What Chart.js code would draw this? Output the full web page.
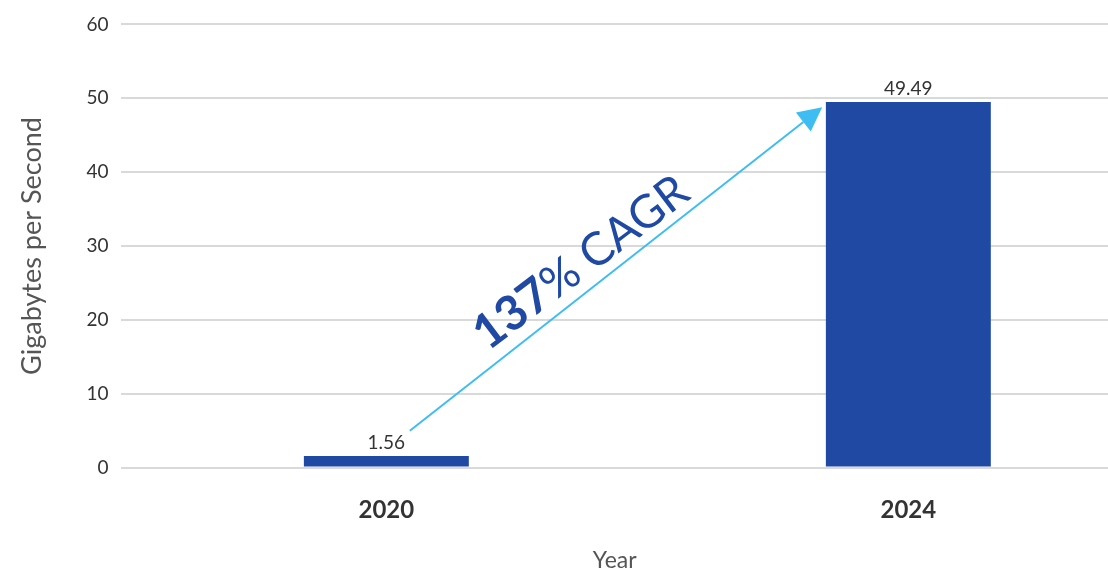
<!DOCTYPE html>
<html>
<head>
<meta charset="utf-8">
<script src="https://cdn.jsdelivr.net/npm/chart.js@4/dist/chart.umd.min.js"></script>
<style>
  html, body { margin: 0; padding: 0; background: #ffffff; }
  #wrap { width: 1108px; height: 574px; }
</style>
</head>
<body>
<div id="wrap"><canvas id="c" width="1108" height="574"></canvas></div>
<script>
// ---- data ----
const years = [2020, 2024];
const gbPerSecond = [1.56, 49.49];
const yTicks = [0, 10, 20, 30, 40, 50, 60];
const annotationBold = "137";
const annotationRest = "% CAGR";
// arrow endpoints in data units (year, GB/s)
const arrowFrom = [2020.18, 5.0];
const arrowTo = [2023.34, 48.8];

const FONT = "Lato, 'Open Sans', sans-serif";
const BAR = "#1f49a3";
const ARROW = "#3dbdf2";

const overlay = {
  id: 'overlay',
  afterDatasetsDraw(chart) {
    const ctx = chart.ctx;
    const xs = chart.scales.x, ys = chart.scales.y;
    const meta = chart.getDatasetMeta(0);
    // value labels
    ctx.save();
    ctx.fillStyle = '#333333';
    ctx.font = "19px " + FONT;
    ctx.textAlign = 'center';
    ctx.textBaseline = 'bottom';
    meta.data.forEach((el, i) => {
      ctx.fillText(String(gbPerSecond[i]), el.x, el.y - 4);
    });
    ctx.restore();

    // arrow
    const x1 = xs.getPixelForValue(arrowFrom[0]), y1 = ys.getPixelForValue(arrowFrom[1]);
    const x2 = xs.getPixelForValue(arrowTo[0]), y2 = ys.getPixelForValue(arrowTo[1]);
    const ang = Math.atan2(y2 - y1, x2 - x1);
    const headLen = 24, headW = 12;
    const bx = x2 - headLen * Math.cos(ang), by = y2 - headLen * Math.sin(ang);
    ctx.save();
    ctx.strokeStyle = ARROW;
    ctx.fillStyle = ARROW;
    ctx.lineWidth = 2;
    ctx.beginPath();
    ctx.moveTo(x1, y1);
    ctx.lineTo(bx, by);
    ctx.stroke();
    ctx.beginPath();
    ctx.moveTo(x2, y2);
    ctx.lineTo(bx + headW * Math.sin(ang), by - headW * Math.cos(ang));
    ctx.lineTo(bx - headW * Math.sin(ang), by + headW * Math.cos(ang));
    ctx.closePath();
    ctx.fill();
    ctx.restore();

    // rotated annotation text
    ctx.save();
    ctx.translate((x1 + x2) / 2, (y1 + y2) / 2);
    ctx.rotate(ang + 0.02);
    const fb = "bold 48px " + FONT, fr = "46px " + FONT;
    ctx.font = fb; const wb = ctx.measureText(annotationBold).width;
    ctx.font = fr; const wr = ctx.measureText(annotationRest).width;
    const start = -24 - (wb + wr) / 2;
    ctx.fillStyle = BAR;
    ctx.textBaseline = 'alphabetic';
    ctx.textAlign = 'left';
    ctx.font = fb; ctx.fillText(annotationBold, start, -11);
    ctx.font = fr; ctx.fillText(annotationRest, start + wb, -11);
    ctx.restore();
  }
};

new Chart(document.getElementById('c'), {
  type: 'bar',
  data: {
    datasets: [{
      data: years.map((y, i) => ({ x: y, y: gbPerSecond[i] })),
      backgroundColor: BAR,
      borderWidth: 0,
      categoryPercentage: 0.316,
      barPercentage: 1.0
    }]
  },
  options: {
    responsive: false,
    animation: false,
    devicePixelRatio: 1,
    layout: { padding: { left: 16, right: 0, top: 12, bottom: 0 } },
    plugins: { legend: { display: false }, tooltip: { enabled: false } },
    scales: {
      x: {
        type: 'linear',
        offset: false,
        min: 2017.97,
        max: 2025.53,
        afterBuildTicks: (axis) => { axis.ticks = years.map(v => ({ value: v })); },
        grid: { display: false },
        border: { display: false },
        ticks: {
          autoSkip: false,
          maxRotation: 0,
          padding: 20,
          color: '#333333',
          font: { family: FONT, size: 24, weight: 'bold' },
          callback: (v) => String(v)
        },
        title: {
          display: true,
          text: 'Year',
          color: '#555555',
          font: { family: FONT, size: 23 },
          padding: { top: 2, bottom: 0 }
        }
      },
      y: {
        min: 0,
        max: 60,
        afterBuildTicks: (axis) => { axis.ticks = yTicks.map(v => ({ value: v })); },
        grid: { color: '#d9d9d9', lineWidth: 2, drawTicks: false },
        border: { display: false },
        ticks: {
          padding: 13,
          color: '#333333',
          font: { family: FONT, size: 19 }
        },
        title: {
          display: true,
          text: 'Gigabytes per Second',
          color: '#555555',
          font: { family: FONT, size: 27 },
          padding: { top: 0, bottom: 25 }
        }
      }
    }
  },
  plugins: [overlay]
});
</script>
</body>
</html>
